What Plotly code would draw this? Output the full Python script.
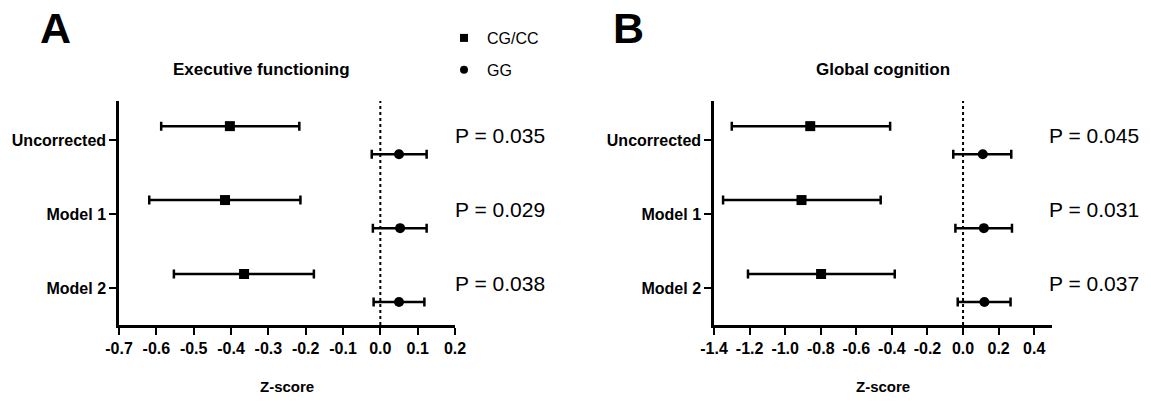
import plotly.graph_objects as go

# ---------------- data ----------------
categories = ["Uncorrected", "Model 1", "Model 2"]

# Executive functioning (panel A)
ef_cg_mean = [-0.403, -0.416, -0.365]
ef_cg_lo = [-0.587, -0.619, -0.553]
ef_cg_hi = [-0.217, -0.214, -0.178]
ef_gg_mean = [0.050, 0.053, 0.050]
ef_gg_lo = [-0.023, -0.020, -0.018]
ef_gg_hi = [0.124, 0.124, 0.118]
ef_p = ["0.035", "0.029", "0.038"]

# Global cognition (panel B)
gc_cg_mean = [-0.859, -0.908, -0.798]
gc_cg_lo = [-1.300, -1.349, -1.209]
gc_cg_hi = [-0.410, -0.463, -0.384]
gc_gg_mean = [0.111, 0.117, 0.120]
gc_gg_lo = [-0.055, -0.043, -0.030]
gc_gg_hi = [0.271, 0.275, 0.267]
gc_p = ["0.045", "0.031", "0.037"]

ef_ticks = [-0.7, -0.6, -0.5, -0.4, -0.3, -0.2, -0.1, 0.0, 0.1, 0.2]
gc_ticks = [-1.4, -1.2, -1.0, -0.8, -0.6, -0.4, -0.2, 0.0, 0.2, 0.4]

group_names = ["CG/CC", "GG"]

# ---------------- layout helpers ----------------
# page body has an 8px default margin; size the figure so it fits the window
OX, OY = 8, 8
W, H = 1151 - 2 * OX, 403 - 2 * OY
FONT = "Liberation Sans"
rows = [3, 2, 1]
OFF = 0.19


def px_x(p):
    return (p - OX) / W


def px_y(p):
    return 1 - (p - OY) / H


fig = go.Figure()


def add_panel(xa, ya, cg_m, cg_lo, cg_hi, gg_m, gg_lo, gg_hi):
    specs = [
        (cg_m, cg_lo, cg_hi, +OFF, "square", 10, group_names[0]),
        (gg_m, gg_lo, gg_hi, -OFF, "circle", 10, group_names[1]),
    ]
    for m, lo, hi, off, sym, sz, name in specs:
        fig.add_trace(go.Scatter(
            x=m,
            y=[r + off for r in rows],
            mode="markers",
            name=name,
            showlegend=False,
            marker=dict(symbol=sym, size=sz, color="black"),
            error_x=dict(
                type="data", symmetric=False,
                array=[h - v for h, v in zip(hi, m)],
                arrayminus=[v - l for v, l in zip(m, lo)],
                color="black", thickness=2.5, width=4.5,
            ),
            xaxis=xa, yaxis=ya,
            hoverinfo="skip",
        ))


add_panel("x", "y", ef_cg_mean, ef_cg_lo, ef_cg_hi, ef_gg_mean, ef_gg_lo, ef_gg_hi)
add_panel("x2", "y2", gc_cg_mean, gc_cg_lo, gc_cg_hi, gc_gg_mean, gc_gg_lo, gc_gg_hi)

# legend-only entries (smaller symbols, as in the reference key)
for name, sym in zip(group_names, ["square", "circle"]):
    fig.add_trace(go.Scatter(
        x=[None], y=[None], mode="markers", name=name, legendgroup=name,
        marker=dict(symbol=sym, size=8, color="black"), showlegend=True,
        xaxis="x", yaxis="y",
    ))

A_dom = [px_x(119), px_x(455)]
B_dom = [px_x(714), px_x(1052)]
Y_dom = [px_y(325), px_y(101)]

axis_common = dict(
    showline=True, linecolor="black", linewidth=2.5,
    ticks="outside", ticklen=7, tickwidth=2, tickcolor="black",
    showgrid=False, zeroline=False, automargin=False,
)
xtickfont = dict(family=FONT, size=16, color="black", weight="bold")
ytickfont = dict(family=FONT, size=16, color="black", weight="bold")

fig.update_layout(
    width=W, height=H,
    margin=dict(l=0, r=0, t=0, b=0),
    paper_bgcolor="white", plot_bgcolor="white",
    xaxis=dict(domain=A_dom, range=[-0.7, 0.2], tickvals=ef_ticks,
               ticktext=[f"{v:.1f}" for v in ef_ticks], anchor="y",
               tickfont=xtickfont, **axis_common),
    yaxis=dict(domain=Y_dom, range=[0.5, 3.53], tickvals=rows, ticktext=categories,
               anchor="x", tickfont=ytickfont, **axis_common),
    xaxis2=dict(domain=B_dom, range=[-1.4, 0.5], tickvals=gc_ticks,
                ticktext=[f"{v:.1f}" for v in gc_ticks], anchor="y2",
                tickfont=xtickfont, **axis_common),
    yaxis2=dict(domain=Y_dom, range=[0.5, 3.53], tickvals=rows, ticktext=categories,
                anchor="x2", tickfont=ytickfont, **axis_common),
    showlegend=True,
    legend=dict(
        x=px_x(441), y=px_y(21), xanchor="left", yanchor="top",
        font=dict(family=FONT, size=16, color="black"),
        tracegroupgap=8, bgcolor="rgba(0,0,0,0)", itemwidth=36,
    ),
)

# dotted zero lines
for xr, yr in [("x", "y"), ("x2", "y2")]:
    fig.add_shape(type="line", xref=xr, yref=f"{yr} domain", x0=0, x1=0, y0=0, y1=1,
                  line=dict(color="black", width=2, dash="dot"))

ann = []


def label(text, x, y, size, xanchor="center", bold=True):
    ann.append(dict(text=f"<b>{text}</b>" if bold else text, x=x, y=y,
                    xref="paper", yref="paper", xanchor=xanchor, yanchor="middle",
                    showarrow=False, font=dict(family=FONT, size=size, color="black")))


# panel letters
label("A", px_x(55), px_y(28), 43)
label("B", px_x(628), px_y(28), 43)
# titles
label("Executive functioning", px_x(261), px_y(70), 17)
label("Global cognition", sum(B_dom) / 2, px_y(70), 17)
# axis titles
for dom in (A_dom, B_dom):
    label("Z-score", sum(dom) / 2, px_y(386), 15)

# p-values
for xr, yr, pv, xd in [("x domain", "y", ef_p, 0.995), ("x2 domain", "y2", gc_p, 0.985)]:
    for r, p in zip(rows, pv):
        ann.append(dict(text=f"P = {p}", x=xd, y=r + 0.06, xref=xr, yref=yr,
                        xanchor="left", yanchor="middle", showarrow=False,
                        font=dict(family=FONT, size=21, color="black")))

fig.update_layout(annotations=ann)

fig.write_html("out.html")
